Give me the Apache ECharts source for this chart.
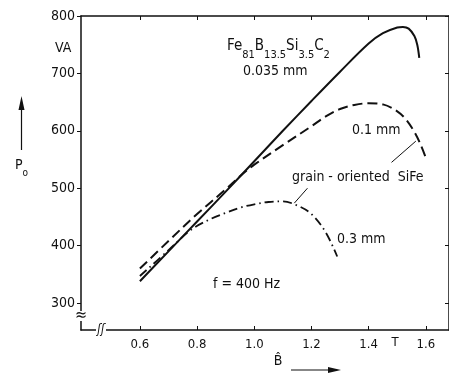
<!DOCTYPE html>
<html>
<head>
<meta charset="utf-8">
<script src="https://cdn.jsdelivr.net/npm/echarts@6/dist/echarts.min.js"></script>
<style>
html,body{margin:0;padding:0;background:#fff;}
#chart{width:449px;height:376px;}
</style>
</head>
<body>
<div id="chart"></div>
<script>
// Fe81B13.5Si3.5C2, 0.035 mm (solid)
var amorphB = [0.6, 0.7, 0.8, 0.9, 1.0, 1.1, 1.2, 1.3, 1.4, 1.45, 1.5, 1.52, 1.54, 1.56, 1.57, 1.577];
var amorphP = [338, 390, 442, 494, 547, 600, 652, 703, 752, 770, 780, 781, 778, 765, 750, 727];
// grain-oriented SiFe 0.1 mm (dashed)
var sife01B = [0.6, 0.7, 0.8, 0.9, 0.95, 1.0, 1.1, 1.2, 1.25, 1.3, 1.35, 1.4, 1.45, 1.5, 1.53, 1.56, 1.58, 1.6];
var sife01P = [360, 408, 455, 498, 521, 541, 575, 608, 625, 638, 645, 648, 646, 634, 620, 598, 578, 553];
// grain-oriented SiFe 0.3 mm (dash-dot)
var sife03B = [0.6, 0.7, 0.78, 0.85, 0.9, 0.95, 1.0, 1.05, 1.1, 1.15, 1.2, 1.25, 1.29];
var sife03P = [347, 392, 428, 447, 457, 466, 472, 476, 477, 470, 455, 423, 381];
// axis ticks
var xTicks = [0.6, 0.8, 1.0, 1.2, 1.4, 1.6];
var yTicks = [300, 400, 500, 600, 700, 800];

function zip(a, b) { return a.map(function (v, i) { return [v, b[i]]; }); }

var FONT = "'DejaVu Sans Condensed', 'DejaVu Sans', sans-serif";
var INK = '#111';

var chart = echarts.init(document.getElementById('chart'), null, {renderer: 'canvas'});

var xCommon = {
  type: 'value', min: 0.394, max: 1.681,
  splitLine: {show: false},
  axisLine: {show: true, lineStyle: {color: INK, width: 1.5}},
  axisTick: {show: true, inside: true, length: 4, customValues: xTicks, lineStyle: {color: INK, width: 1}}
};
var yCommon = {
  type: 'value', min: 253, max: 800,
  splitLine: {show: false},
  axisLine: {show: true, lineStyle: {color: INK, width: 1.5}},
  axisTick: {show: true, length: 4, customValues: yTicks, lineStyle: {color: INK, width: 1}}
};

var option = {
  backgroundColor: '#fff',
  animation: false,
  grid: {left: 81, right: -1, top: 16, bottom: 46, containLabel: false},
  xAxis: [
    echarts.util.merge(echarts.util.clone(xCommon), {
      position: 'bottom',
      axisLabel: {show: true, customValues: xTicks, margin: 8, color: INK,
        fontFamily: FONT, fontSize: 13,
        formatter: function (v) { return v.toFixed(1); }}
    }),
    echarts.util.merge(echarts.util.clone(xCommon), {
      position: 'top',
      axisLabel: {show: false}
    })
  ],
  yAxis: [
    echarts.util.merge(echarts.util.clone(yCommon), {
      position: 'left',
      axisLabel: {show: true, customValues: yTicks, margin: 6, color: INK,
        fontFamily: FONT, fontSize: 14}
    }),
    echarts.util.merge(echarts.util.clone(yCommon), {
      position: 'right',
      axisTick: {inside: true, length: 3},
      axisLabel: {show: false}
    })
  ],
  series: [
    {
      type: 'line', name: 'Fe81B13.5Si3.5C2 0.035 mm',
      data: zip(amorphB, amorphP), smooth: 0.35, showSymbol: false, symbol: 'none',
      lineStyle: {color: INK, width: 2, type: 'solid'}
    },
    {
      type: 'line', name: '0.1 mm',
      data: zip(sife01B, sife01P), smooth: 0.35, showSymbol: false, symbol: 'none',
      lineStyle: {color: INK, width: 2, type: [10, 5]},
      markLine: {
        silent: true, symbol: ['none', 'none'], label: {show: false},
        lineStyle: {color: INK, width: 1, type: 'solid'},
        data: [[{coord: [1.48, 545]}, {coord: [1.565, 582]}]]
      }
    },
    {
      type: 'line', name: '0.3 mm',
      data: zip(sife03B, sife03P), smooth: 0.35, showSymbol: false, symbol: 'none',
      lineStyle: {color: INK, width: 1.8, type: [9, 4, 1.5, 4], cap: 'butt'},
      markLine: {
        silent: true, symbol: ['none', 'none'], label: {show: false},
        lineStyle: {color: INK, width: 1, type: 'solid'},
        data: [[{coord: [1.14, 474]}, {coord: [1.186, 500]}]]
      }
    }
  ],
  graphic: [
    {type: 'text', z: 100, left: 55, top: 41,
      style: {text: 'VA', font: '14px ' + FONT, fill: INK}},
    // P_o with arrow
    {type: 'text', z: 100, x: 15, y: 158,
      style: {text: '{n|P}{s|o}', fill: INK,
        rich: {n: {fontFamily: FONT, fontSize: 14, lineHeight: 16, verticalAlign: 'top', fill: INK},
               s: {fontFamily: FONT, fontSize: 10, lineHeight: 30, fill: INK}}}},
    {type: 'line', z: 100, shape: {x1: 21.5, y1: 150, x2: 21.5, y2: 106}, style: {stroke: INK, lineWidth: 1.2}},
    {type: 'polygon', z: 100, shape: {points: [[21.5, 96], [18.5, 110], [24.5, 110]]}, style: {fill: INK}},
    // B-hat with arrow
    {type: 'text', z: 100, x: 278, y: 361,
      style: {text: 'B\u0302', font: '14px ' + FONT, fill: INK, align: 'center', verticalAlign: 'middle'}},
    {type: 'line', z: 100, shape: {x1: 291, y1: 370, x2: 330, y2: 370}, style: {stroke: INK, lineWidth: 1.2}},
    {type: 'polygon', z: 100, shape: {points: [[341, 370], [328, 367], [328, 373]]}, style: {fill: INK}},
    {type: 'text', z: 100, x: 395, y: 343,
      style: {text: 'T', font: '13px ' + FONT, fill: INK, align: 'center', verticalAlign: 'middle'}},
    // formula
    {type: 'text', z: 100, x: 227, y: 39,
      style: {text: '{n|Fe}{s|81}{n|B}{s|13.5}{n|Si}{s|3.5}{n|C}{s|2}', fill: INK,
        rich: {n: {fontFamily: FONT, fontSize: 15, lineHeight: 17, verticalAlign: 'top', fill: INK},
               s: {fontFamily: FONT, fontSize: 11, lineHeight: 32, fill: INK}}}},
    {type: 'text', z: 100, x: 243, y: 71,
      style: {text: '0.035 mm', font: '14px ' + FONT, fill: INK, verticalAlign: 'middle'}},
    {type: 'text', z: 100, x: 352, y: 130,
      style: {text: '0.1 mm', font: '14px ' + FONT, fill: INK, verticalAlign: 'middle'}},
    {type: 'text', z: 100, x: 292, y: 177,
      style: {text: 'grain - oriented  SiFe', font: '14px ' + FONT, fill: INK, verticalAlign: 'middle'}},
    {type: 'text', z: 100, x: 337, y: 239,
      style: {text: '0.3 mm', font: '14px ' + FONT, fill: INK, verticalAlign: 'middle'}},
    {type: 'text', z: 100, x: 213, y: 284,
      style: {text: 'f = 400 Hz', font: '14px ' + FONT, fill: INK, verticalAlign: 'middle'}},
    // axis breaks
    {type: 'rect', z: 100, shape: {x: 76, y: 311, width: 10, height: 10}, style: {fill: '#fff'}},
    {type: 'text', z: 101, x: 81, y: 316,
      style: {text: '\u2248', font: '16px ' + FONT, fill: INK, align: 'center', verticalAlign: 'middle'}},
    {type: 'rect', z: 100, shape: {x: 96, y: 325, width: 10, height: 10}, style: {fill: '#fff'}},
    {type: 'text', z: 101, x: 101, y: 330,
      style: {text: '\u0283\u0283', font: 'italic 12px ' + FONT, fill: INK, align: 'center', verticalAlign: 'middle'}}
  ]
};
chart.setOption(option);
</script>
</body>
</html>
